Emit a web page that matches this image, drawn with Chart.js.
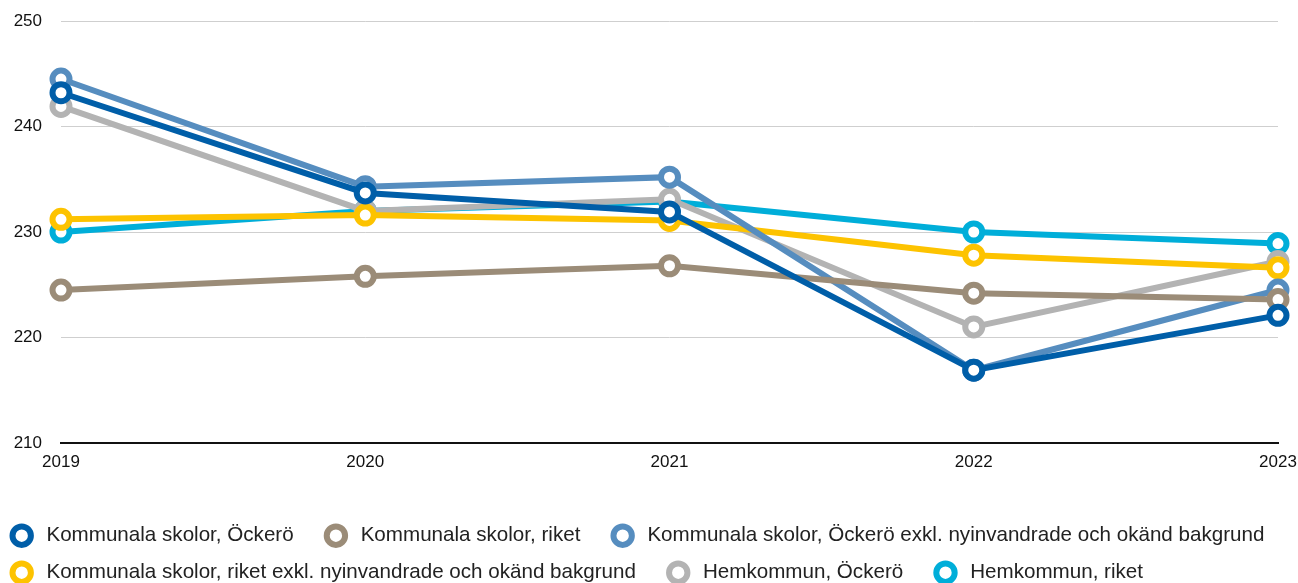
<!DOCTYPE html>
<html>
<head>
<meta charset="utf-8">
<script src="https://cdn.jsdelivr.net/npm/chart.js@4/dist/chart.umd.min.js"></script>
<style>
  html, body { margin: 0; padding: 0; background: #fff; }
  #wrap { width: 1298px; height: 583px; }
</style>
</head>
<body>
<div id="wrap"><canvas id="chart" width="1298" height="583"></canvas></div>
<script>
const years = ['2019', '2020', '2021', '2022', '2023'];

const kommunalaOckero = [243.2, 233.7, 231.9, 216.9, 222.1];
const kommunalaRiket = [224.5, 225.8, 226.8, 224.2, 223.6];
const kommunalaOckeroExkl = [244.5, 234.3, 235.2, 216.9, 224.5];
const kommunalaRiketExkl = [231.2, 231.6, 231.1, 227.8, 226.6];
const hemkommunOckero = [241.9, 232.0, 233.1, 221.0, 227.2];
const hemkommunRiket = [230.0, 232.0, 232.9, 230.0, 228.9];

const yTicks = [210, 220, 230, 240, 250];

function serie(label, data, color) {
  return {
    label,
    data,
    borderColor: color,
    backgroundColor: '#ffffff',
    borderWidth: 6,
    pointRadius: 8.5,
    pointBorderWidth: 6,
    pointBorderColor: color,
    pointBackgroundColor: '#ffffff',
    tension: 0,
    clip: false
  };
}

const font = 'Liberation Sans, Arial, sans-serif';

new Chart(document.getElementById('chart').getContext('2d'), {
  type: 'line',
  data: {
    labels: years,
    datasets: [
      serie('Kommunala skolor, Öckerö', kommunalaOckero, '#005ea8'),
      serie('Kommunala skolor, riket', kommunalaRiket, '#9b8c78'),
      serie('Kommunala skolor, Öckerö exkl. nyinvandrade och okänd bakgrund', kommunalaOckeroExkl, '#568dbf'),
      serie('Kommunala skolor, riket exkl. nyinvandrade och okänd bakgrund', kommunalaRiketExkl, '#fdc300'),
      serie('Hemkommun, Öckerö', hemkommunOckero, '#b3b3b3'),
      serie('Hemkommun, riket', hemkommunRiket, '#00aed9')
    ]
  },
  options: {
    responsive: false,
    maintainAspectRatio: false,
    animation: false,
    layout: { padding: { top: 21, left: -5, right: -30, bottom: -10 } },
    plugins: {
      tooltip: { enabled: false },
      legend: {
        position: 'bottom',
        align: 'start',
        labels: {
          usePointStyle: true,
          pointStyle: 'circle',
          boxHeight: 13,
          padding: 16.4,
          color: '#222',
          font: { family: font, size: 20.6 },
          generateLabels(chart) {
            const items = Chart.defaults.plugins.legend.labels.generateLabels(chart);
            // extra air around the text, like the original legend
            items.forEach(it => { it.text = '\u2009' + it.text + '  \u2009'; });
            return items;
          }
        }
      }
    },
    scales: {
      x: {
        offset: false,
        grid: { display: false, drawTicks: false },
        border: { display: true, color: '#111', width: 2 },
        ticks: { color: '#111', font: { family: font, size: 17 }, padding: 9, maxRotation: 0 },
        afterFit(scale) {
          scale.height = 66;
          scale.paddingLeft = 0;
          scale.paddingRight = 20;
        }
      },
      y: {
        min: 210,
        max: 250,
        afterBuildTicks(scale) { scale.ticks = yTicks.map(v => ({ value: v })); },
        grid: { color: '#cfcfcf', lineWidth: 1, drawTicks: false },
        border: { display: false },
        ticks: { color: '#111', font: { family: font, size: 17 }, padding: 19 },
        afterFit(scale) {
          scale.width = 66;
          scale.paddingTop = 0;
          scale.paddingBottom = 0;
        }
      }
    }
  }
});
</script>
</body>
</html>
